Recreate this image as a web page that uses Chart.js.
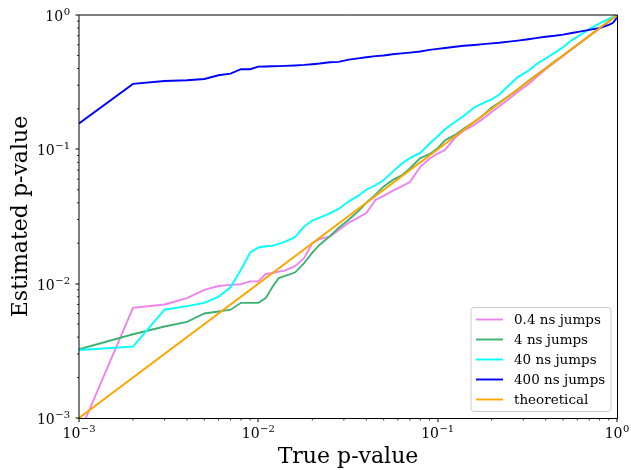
<!DOCTYPE html>
<html><head><meta charset="utf-8">
<script src="https://cdn.jsdelivr.net/npm/chart.js@4/dist/chart.umd.min.js"></script>
<style>html,body{margin:0;padding:0;background:#fff}canvas{display:block}</style>
</head><body>
<canvas id="c" width="631" height="470"></canvas>
<script>
// ---- data ----
const trueP = [0.001,0.002,0.003,0.004,0.005,0.006,0.007,0.008,0.009,0.010,0.011,0.012,0.013,0.014,0.016,0.018,0.020,0.022,0.025,0.028,0.032,0.036,0.040,0.045,0.050,0.056,0.063,0.070,0.080,0.090,0.10,0.11,0.125,0.14,0.16,0.18,0.20,0.22,0.25,0.28,0.32,0.36,0.40,0.45,0.50,0.56,0.63,0.70,0.80,0.90,0.95,1.0];
const jumps04 = [0.00076,0.0066,0.0070,0.0078,0.0090,0.0096,0.0098,0.0099,0.0104,0.0104,0.0118,0.0120,0.0123,0.0125,0.0135,0.0155,0.0200,0.0215,0.0224,0.0250,0.0285,0.0310,0.0335,0.0420,0.0450,0.0490,0.0530,0.0570,0.0740,0.0850,0.0930,0.0990,0.122,0.138,0.152,0.170,0.190,0.208,0.237,0.268,0.305,0.350,0.395,0.445,0.495,0.555,0.625,0.695,0.795,0.895,0.948,1.0];
const jumps4 = [0.00325,0.0042,0.0048,0.0052,0.0060,0.0062,0.0064,0.0072,0.0072,0.0072,0.0078,0.0095,0.0110,0.0114,0.0121,0.0142,0.0170,0.0195,0.0225,0.0260,0.0300,0.0345,0.0400,0.0460,0.0530,0.0590,0.0640,0.0720,0.0860,0.0920,0.102,0.117,0.128,0.143,0.160,0.180,0.205,0.222,0.250,0.280,0.322,0.362,0.402,0.452,0.500,0.560,0.630,0.700,0.800,0.900,0.950,1.0];
const jumps40 = [0.00321,0.0034,0.0064,0.0068,0.0072,0.0080,0.0094,0.0127,0.0170,0.0186,0.0190,0.0192,0.0198,0.0205,0.0222,0.0266,0.0295,0.0310,0.0334,0.0360,0.0410,0.0450,0.0500,0.0540,0.0590,0.0680,0.0780,0.0860,0.0940,0.110,0.125,0.141,0.160,0.178,0.205,0.222,0.235,0.255,0.300,0.345,0.385,0.435,0.475,0.525,0.575,0.650,0.715,0.785,0.865,0.935,0.970,1.0];
const jumps400 = [0.156,0.307,0.323,0.327,0.334,0.356,0.366,0.395,0.395,0.413,0.414,0.415,0.416,0.418,0.421,0.425,0.430,0.435,0.445,0.448,0.465,0.475,0.485,0.494,0.500,0.510,0.518,0.525,0.535,0.550,0.560,0.568,0.580,0.590,0.598,0.607,0.615,0.622,0.634,0.645,0.660,0.675,0.688,0.700,0.715,0.735,0.755,0.775,0.800,0.845,0.875,0.955];
const theoreticalX = [0.001, 1];
const theoreticalY = [0.001, 1];
const seriesLabels = ['0.4 ns jumps','4 ns jumps','40 ns jumps','400 ns jumps','theoretical'];
const seriesColors = ['#ee82ee','#3cb371','#00ffff','#0000ff','#ffa500'];
const majorTicks = [0.001, 0.01, 0.1, 1];
const majorExps = ['\u22123','\u22122','\u22121','0'];
const xTitle = 'True p-value';
const yTitle = 'Estimated p-value';

const FONT = '"DejaVu Serif", "Liberation Serif", serif';
const LW = 1.9;
const pts = (xs, ys) => xs.map((x, i) => ({x, y: ys[i]}));
const ySeries = [jumps04, jumps4, jumps40, jumps400];

const datasets = ySeries.map((ys, i) => ({
  label: seriesLabels[i], data: pts(trueP, ys), borderColor: seriesColors[i],
  borderWidth: LW, pointRadius: 0, fill: false, tension: 0, order: 5 - i
}));
datasets.push({label: seriesLabels[4], data: pts(theoreticalX, theoreticalY), borderColor: seriesColors[4],
  borderWidth: LW, pointRadius: 0, fill: false, tension: 0, order: 0});

function minorValues() {
  const out = [];
  for (let e = -3; e < 0; e++) for (let m = 2; m <= 9; m++) out.push(m * Math.pow(10, e));
  return out;
}

function drawPow(ctx, base, exp, x, yBase, align) {
  ctx.font = '14px ' + FONT;
  const wb = ctx.measureText(base).width;
  ctx.font = '10px ' + FONT;
  const we = ctx.measureText(exp).width;
  const total = wb + we + 0.5;
  let x0 = align === 'center' ? x - total / 2 : x - total;
  ctx.fillStyle = '#000';
  ctx.textAlign = 'left';
  ctx.textBaseline = 'alphabetic';
  ctx.font = '14px ' + FONT;
  ctx.fillText(base, x0, yBase);
  ctx.font = '10px ' + FONT;
  ctx.fillText(exp, x0 + wb + 0.5, yBase - 6);
}

const decor = {
  id: 'decor',
  afterDraw(chart) {
    const ctx = chart.ctx, a = chart.chartArea;
    const xs = chart.scales.x, ys = chart.scales.y;
    ctx.save();
    // spines
    ctx.strokeStyle = '#000'; ctx.lineWidth = 1;
    ctx.beginPath();
    ctx.moveTo(a.left, a.top); ctx.lineTo(a.right + 0.5, a.top);
    ctx.moveTo(a.right + 0.5, a.top); ctx.lineTo(a.right + 0.5, a.bottom + 0.5);
    ctx.moveTo(a.left, a.bottom + 0.5); ctx.lineTo(a.right + 0.5, a.bottom + 0.5);
    ctx.moveTo(a.left, a.top); ctx.lineTo(a.left, a.bottom + 0.5);
    ctx.stroke();
    // ticks
    ctx.lineWidth = 1;
    ctx.beginPath();
    majorTicks.forEach(v => {
      const px = Math.round(xs.getPixelForValue(v)) + 0.5;
      ctx.moveTo(px - 0.5, a.bottom + 0.5); ctx.lineTo(px - 0.5, a.bottom + 4);
      const py = Math.round(ys.getPixelForValue(v)) + 0.5;
      ctx.moveTo(a.left, py - 0.5); ctx.lineTo(a.left - 3.5, py - 0.5);
    });
    ctx.stroke();
    ctx.lineWidth = 0.8;
    ctx.beginPath();
    minorValues().forEach(v => {
      const px = xs.getPixelForValue(v);
      ctx.moveTo(px, a.bottom + 0.5); ctx.lineTo(px, a.bottom + 2.5);
      const py = ys.getPixelForValue(v);
      ctx.moveTo(a.left, py); ctx.lineTo(a.left - 2, py);
    });
    ctx.stroke();
    // tick labels
    majorTicks.forEach((v, i) => {
      drawPow(ctx, '10', majorExps[i], xs.getPixelForValue(v), a.bottom + 20, 'center');
      drawPow(ctx, '10', majorExps[i], a.left - 9, ys.getPixelForValue(v) + 6, 'right');
    });
    // axis titles
    ctx.fillStyle = '#000';
    ctx.font = '22px ' + FONT;
    ctx.textAlign = 'center'; ctx.textBaseline = 'alphabetic';
    ctx.fillText(xTitle, (a.left + a.right) / 2, 463);
    ctx.save();
    ctx.translate(27, (a.top + a.bottom) / 2);
    ctx.rotate(-Math.PI / 2);
    ctx.fillText(yTitle, 0, 0);
    ctx.restore();
    // legend
    const lx = 471, ly = 307.5, lw = 140, lh = 104, r = 3;
    ctx.beginPath();
    ctx.moveTo(lx + r, ly); ctx.lineTo(lx + lw - r, ly); ctx.arcTo(lx + lw, ly, lx + lw, ly + r, r);
    ctx.lineTo(lx + lw, ly + lh - r); ctx.arcTo(lx + lw, ly + lh, lx + lw - r, ly + lh, r);
    ctx.lineTo(lx + r, ly + lh); ctx.arcTo(lx, ly + lh, lx, ly + lh - r, r);
    ctx.lineTo(lx, ly + r); ctx.arcTo(lx, ly, lx + r, ly, r);
    ctx.closePath();
    ctx.fillStyle = 'rgba(255,255,255,0.8)'; ctx.fill();
    ctx.strokeStyle = '#cccccc'; ctx.lineWidth = 1; ctx.stroke();
    ctx.font = '13.5px ' + FONT;
    ctx.textAlign = 'left'; ctx.textBaseline = 'middle';
    seriesLabels.forEach((lab, i) => {
      const y = 319.5 + i * 20;
      ctx.strokeStyle = seriesColors[i]; ctx.lineWidth = LW;
      ctx.beginPath(); ctx.moveTo(476, y); ctx.lineTo(503, y); ctx.stroke();
      ctx.fillStyle = '#000';
      ctx.fillText(lab, 514, y + 0.5);
    });
    ctx.restore();
  }
};

new Chart(document.getElementById('c'), {
  type: 'line',
  data: {datasets},
  options: {
    responsive: false, animation: false, devicePixelRatio: 1,
    parsing: true,
    layout: {padding: {left: 0, right: 14, top: 15, bottom: 0}},
    scales: {
      x: {type: 'logarithmic', min: 0.001, max: 1, position: 'bottom',
          ticks: {display: false}, grid: {display: false}, border: {display: false},
          afterFit(s) { s.height = 52; }},
      y: {type: 'logarithmic', min: 0.001, max: 1, position: 'left',
          ticks: {display: false}, grid: {display: false}, border: {display: false},
          afterFit(s) { s.width = 79; }}
    },
    plugins: {legend: {display: false}, tooltip: {enabled: false}, title: {display: false}}
  },
  plugins: [decor]
});
</script>
</body></html>
